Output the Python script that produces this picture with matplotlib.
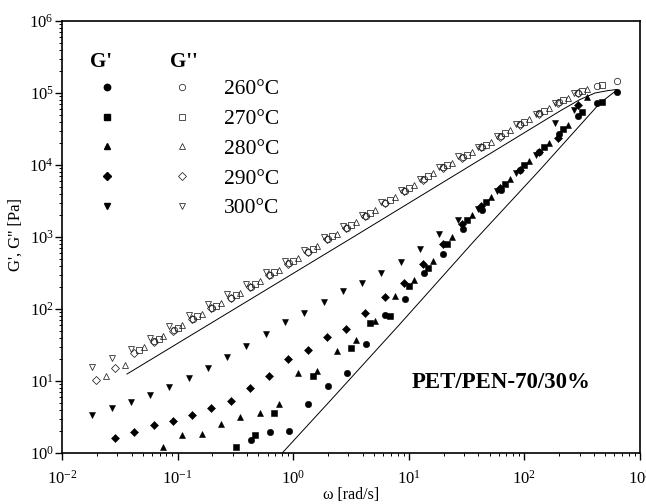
import numpy as np
import matplotlib
matplotlib.use("Agg")
import matplotlib.pyplot as plt
from matplotlib.ticker import LogLocator, NullFormatter
from matplotlib.lines import Line2D

plt.rcParams["font.family"] = "Liberation Serif"
plt.rcParams["mathtext.fontset"] = "custom"
plt.rcParams["mathtext.rm"] = "Liberation Serif"
plt.rcParams["mathtext.it"] = "Liberation Serif:italic"
plt.rcParams["mathtext.bf"] = "Liberation Serif:bold"

nan = np.nan

# --- frequency sweeps (rad/s) and moduli (Pa) per temperature ---------------
w260 = [0.0628, 0.0922, 0.135, 0.199, 0.292, 0.428, 0.628, 0.922, 1.35, 1.99,
        2.92, 4.28, 6.28, 9.22, 13.5, 19.9, 29.2, 42.8, 62.8, 92.2,
        135, 199, 292, 428, 628]
gp260 = [nan, nan, nan, nan, nan, 1.52, 1.96, 2.05, 4.8, 8.5,
         12.8, 32.6, 82.6, 136, 313, 580, 1290, 2370, 4500, 8530,
         15200, 27000, 48000, 72600, 104000]
gpp260 = [35.4, 50.7, 73.1, 104, 144, 204, 299, 429, 625, 942,
          1350, 1970, 2990, 4400, 6380, 9290, 12900, 17900, 25200, 37000,
          52000, 73800, 100000, 124000, 146000]

w270 = [0.0466, 0.0684, 0.100, 0.147, 0.216, 0.317, 0.466, 0.684, 1.00, 1.47,
        2.16, 3.17, 4.66, 6.84, 10.0, 14.7, 21.6, 31.7, 46.6, 68.4,
        100, 147, 216, 317, 466]
gp270 = [nan, nan, nan, nan, nan, 1.22, 1.78, 3.63, nan, 11.6,
         nan, 29.0, 64.5, 81.2, 209, 367, 792, 1720, 3060, 5450,
         10000, 17800, 31600, 54500, 75000]
gpp270 = [26.8, 38.3, 55.0, 79.1, 111, 155, 222, 324, 465, 687,
          1020, 1470, 2160, 3260, 4770, 6950, 10000, 13800, 19200, 27500,
          39900, 56200, 79400, 106000, 129000]

w280 = [0.0238, 0.0349, 0.0513, 0.0753, 0.110, 0.162, 0.238, 0.349, 0.513, 0.753,
        1.10, 1.62, 2.38, 3.49, 5.13, 7.53, 11.0, 16.2, 23.8, 34.9,
        51.3, 75.3, 110, 162, 238, 349]
gp280 = [nan, nan, nan, 1.20, 1.78, 1.84, 2.55, 3.19, 3.56, 4.79,
         12.8, 13.8, 26.1, 37.1, 68.1, 150, 253, 469, 1010, 2020,
         3590, 6390, 11400, 20200, 36500, 88900]
gpp280 = [11.7, 16.5, 29.2, 41.8, 60.3, 86.3, 121, 169, 244, 353,
          509, 760, 1110, 1610, 2400, 3580, 5220, 7640, 10800, 15000,
          20900, 30300, 43300, 61200, 85900, 112000]

w290 = [0.0196, 0.0288, 0.0422, 0.0620, 0.0910, 0.134, 0.196, 0.288, 0.422, 0.620,
        0.910, 1.34, 1.96, 2.88, 4.22, 6.20, 9.10, 13.4, 19.6, 28.8,
        42.2, 62.0, 91.0, 134, 196, 288]
gp290 = [nan, 1.63, 1.98, 2.43, 2.81, 3.34, 4.26, 5.33, 8.07, 11.8,
         20.0, 27.0, 40.5, 53.1, 88.9, 145, 228, 422, 792, 1520,
         2700, 4800, 8530, 15200, 23500, 68100]
gpp290 = [10.3, 15.0, 24.4, 34.8, 50.0, 71.9, 102, 142, 200, 294,
          422, 617, 927, 1330, 1940, 2940, 4330, 6280, 9160, 12700,
          17600, 24800, 36500, 51200, 72800, 99500]

w300 = [0.0183, 0.0269, 0.0394, 0.0579, 0.0849, 0.125, 0.183, 0.269, 0.394, 0.579,
        0.849, 1.25, 1.83, 2.69, 3.94, 5.79, 8.49, 12.5, 18.3, 26.9,
        39.4, 57.9, 84.9, 125, 183, 269]
gp300 = [3.37, 4.18, 5.11, 6.33, 8.18, 11.1, 15.2, 21.8, 30.9, 45.0,
         65.4, 88.9, 125, 178, 233, 321, 443, 675, 1100, 1720,
         2450, 4350, 7740, 13800, 37900, 58000]
gpp300 = [15.6, 20.9, 27.8, 39.5, 58.0, 81.8, 116, 161, 226, 324,
          465, 658, 1000, 1400, 2020, 3080, 4450, 6440, 9480, 13200,
          17800, 24900, 36700, 51600, 73600, 99800]

# model curves
fit_gpp_w = [0.0365, 3.1, 203, 303, 408, 529, 632]
fit_gpp = [12.5, 938, 56200, 81300, 100000, 108000, 112000]
fit_gp_w = [0.682, 2.08, 8.39, 37.4, 136, 451, 632]
fit_gp = [0.75, 5.27, 61.9, 908, 8530, 72600, 110000]

temps = ["260°C", "270°C", "280°C", "290°C", "300°C"]
freqs = [w260, w270, w280, w290, w300]
gprime = [gp260, gp270, gp280, gp290, gp300]
gdouble = [gpp260, gpp270, gpp280, gpp290, gpp300]
markers = ["o", "s", "^", "D", "v"]
msizes = [4.6, 4.2, 5.0, 3.6, 5.0]

fig = plt.figure(figsize=(6.46, 5.04), dpi=100)
ax = fig.add_axes([62 / 646, 51 / 504, 578 / 646, 432 / 504])
ax.set_xscale("log")
ax.set_yscale("log")

ax.plot(fit_gpp_w, fit_gpp, color="black", lw=0.7, zorder=2)
ax.plot(fit_gp_w, fit_gp, color="black", lw=0.7, zorder=2)

for w, gp, gpp, m, ms in zip(freqs, gprime, gdouble, markers, msizes):
    ax.plot(w, gpp, ls="none", marker=m, ms=ms, mfc="none", mec="#222222",
            mew=0.55, zorder=3)
    ax.plot(w, gp, ls="none", marker=m, ms=ms, mfc="black", mec="black",
            mew=0.4, zorder=4)

ax.set_xlim(1e-2, 1e3)
ax.set_ylim(1e0, 1e6)

for axis in (ax.xaxis, ax.yaxis):
    axis.set_major_locator(LogLocator(base=10, numticks=12))
    axis.set_minor_locator(LogLocator(base=10, subs=np.arange(2, 10), numticks=12))
    axis.set_minor_formatter(NullFormatter())

ax.tick_params(which="major", direction="out", length=5, width=1.0,
               labelsize=12, top=False, right=False)
ax.tick_params(which="minor", direction="out", length=2.5, width=0.7,
               top=False, right=False)
ax.tick_params(axis="x", which="major", pad=7)
ax.tick_params(axis="y", which="major", pad=1)
for s in ax.spines.values():
    s.set_linewidth(1.2)

ax.set_xlabel("ω [rad/s]", fontsize=11.5)
ax.xaxis.set_label_coords(0.5, -0.078)
ax.set_ylabel("G', G'' [Pa]", fontsize=12)
ax.yaxis.set_label_coords(-0.066, 0.505)

# legend: filled (G') column, open (G'') column with temperatures
handles = []
labels = []
for m, ms in zip(markers, msizes):
    handles.append(Line2D([], [], ls="none", marker=m, ms=ms, mfc="black", mec="black"))
    labels.append("")
for m, ms, t in zip(markers, msizes, temps):
    handles.append(Line2D([], [], ls="none", marker=m, ms=ms, mfc="none",
                          mec="#222222", mew=0.55))
    labels.append(t)
ax.legend(handles, labels, ncol=2, frameon=False, fontsize=15.5,
          loc="upper left", bbox_to_anchor=(0.0593, 0.865),
          borderpad=0, borderaxespad=0, handlelength=1.0, handletextpad=1.45,
          columnspacing=1.04, labelspacing=0.45)

ax.text(0.0675, 0.906, "G'", transform=ax.transAxes, fontsize=15,
        fontweight="bold", ha="center", va="center")
ax.text(0.211, 0.906, "G''", transform=ax.transAxes, fontsize=15,
        fontweight="bold", ha="center", va="center")
ax.text(0.6055, 0.1505, "PET/PEN-70/30%", transform=ax.transAxes,
        fontsize=16.5, fontweight="bold", ha="left", va="baseline")

fig.savefig("out.png", dpi=100)
